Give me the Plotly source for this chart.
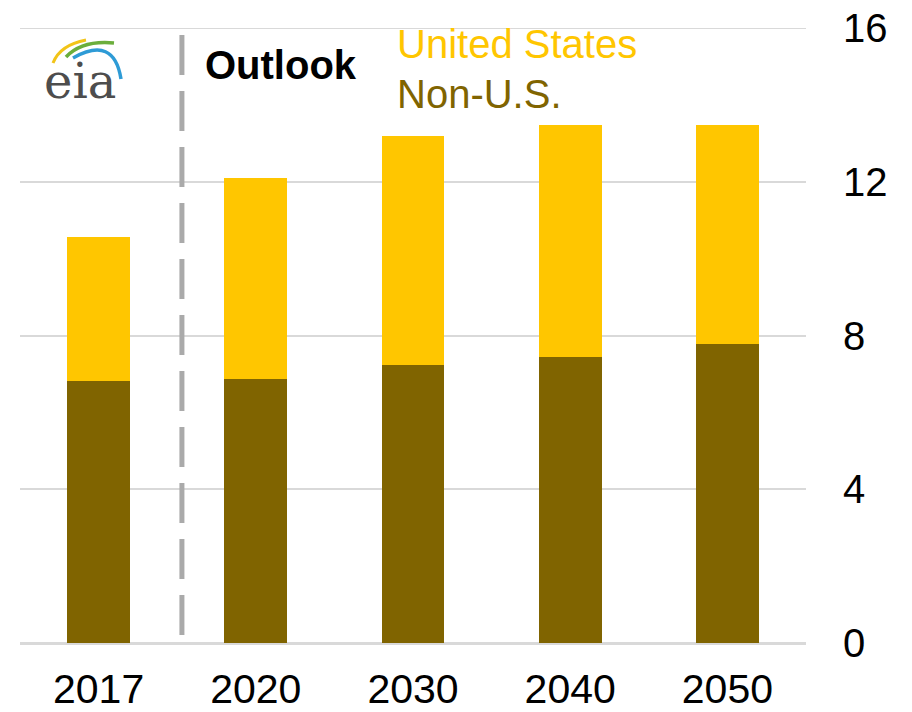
import plotly.graph_objects as go

years = ["2017", "2020", "2030", "2040", "2050"]
non_us = [6.82, 6.87, 7.23, 7.44, 7.78]
united_states = [3.74, 5.23, 5.96, 6.04, 5.70]
y_ticks = [0, 4, 8, 12, 16]

US_COLOR = "#FFC600"
NONUS_COLOR = "#806400"
FONT = "Liberation Sans, Arial, sans-serif"

W, H = 912, 712
ML, MR, MT, MB = 20, 106, 28, 69
PW, PH = W - ML - MR, H - MT - MB


def px(x, y):
    return (x - ML) / PW, (H - MB - y) / PH


fig = go.Figure()
fig.add_trace(go.Bar(x=years, y=non_us, name="Non-U.S.", marker_color=NONUS_COLOR,
                     marker_line_width=0))
fig.add_trace(go.Bar(x=years, y=united_states, name="United States", marker_color=US_COLOR,
                     marker_line_width=0))

# top gridline (edge gridline is not drawn by plotly)
fig.add_shape(type="line", xref="paper", yref="y", x0=0, x1=1, y0=y_ticks[-1], y1=y_ticks[-1],
              line=dict(color="#D9D9D9", width=2), layer="below")

# dashed outlook divider
fig.add_shape(type="line", xref="x", yref="paper", x0=0.53, x1=0.53, y0=px(0, 635)[1], y1=1,
              line=dict(color="#AAAAAA", width=5, dash="40px,16px"))

# logo arcs
def arc(p0, c, p1, color, w):
    a = px(*p0); b = px(*c); d = px(*p1)
    fig.add_shape(type="path", xref="paper", yref="paper",
                  path=f"M {a[0]},{a[1]} Q {b[0]},{b[1]} {d[0]},{d[1]}",
                  line=dict(color=color, width=w))

arc((53, 63), (60, 45), (86, 40), "#F2C418", 3)
arc((66, 57), (82, 40), (114, 43), "#6BAE3C", 3.5)
arc((73, 58), (114, 35), (121, 79), "#2E9BD6", 3.5)

annotations = [
    dict(text="eia", x=px(80, 0)[0], y=px(0, 81)[1], xanchor="center", yanchor="middle",
         font=dict(family="DejaVu Serif", size=48, color="#4D4D4D")),
    dict(text="<b>Outlook</b>", x=px(203, 0)[0], y=px(0, 65)[1], xanchor="left", yanchor="middle",
         font=dict(family=FONT, size=40, color="#000000")),
    dict(text="United States", x=px(395, 0)[0], y=px(0, 44)[1], xanchor="left", yanchor="middle",
         font=dict(family=FONT, size=40, color=US_COLOR)),
    dict(text="Non-U.S.", x=px(395, 0)[0], y=px(0, 94)[1], xanchor="left", yanchor="middle",
         font=dict(family=FONT, size=40, color=NONUS_COLOR)),
]
for a in annotations:
    a.update(xref="paper", yref="paper", showarrow=False)

fig.update_layout(
    width=W, height=H,
    margin=dict(l=ML, r=MR, t=MT, b=MB, pad=0, autoexpand=False),
    barmode="stack", bargap=0.6,
    plot_bgcolor="white", paper_bgcolor="white",
    showlegend=False,
    annotations=annotations,
    font=dict(family=FONT, color="#000000"),
    xaxis=dict(showgrid=False, showline=False, ticks="", tickfont=dict(size=41),
               ticklabelstandoff=18, automargin=False),
    yaxis=dict(side="right", range=[0, 16], tickvals=y_ticks, showgrid=True,
               gridcolor="#D9D9D9", gridwidth=2, zeroline=True, zerolinecolor="#D9D9D9",
               zerolinewidth=3, showline=False, ticks="", tickfont=dict(size=40),
               ticklabelstandoff=36, automargin=False),
)

fig.write_html("out.html")
